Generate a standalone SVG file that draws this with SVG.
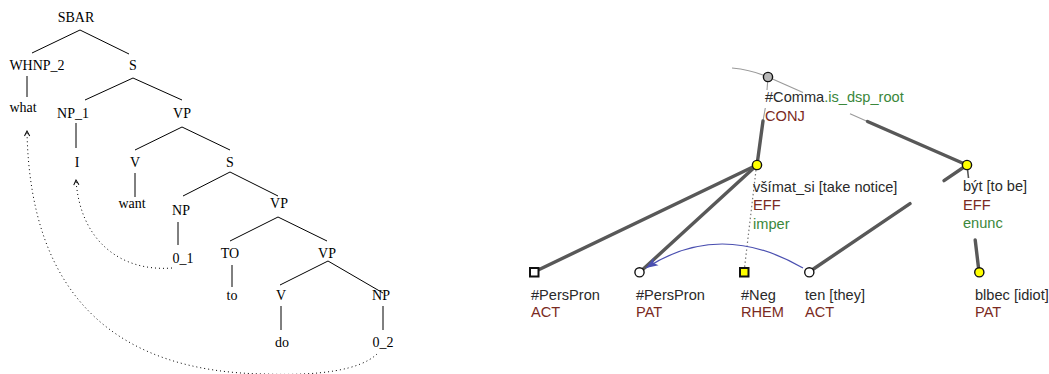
<svg xmlns="http://www.w3.org/2000/svg" width="1049" height="374" viewBox="0 0 1049 374">
<defs>
<style>
.ps{font-family:"Liberation Serif","Times New Roman",serif;font-size:14px;fill:#000;text-anchor:middle}
.tl{stroke:#000;stroke-width:1;fill:none}
.dot{stroke:#000;stroke-width:1;fill:none;stroke-dasharray:1 3}
.ss{font-family:"Liberation Sans",Arial,sans-serif;font-size:14.6px}
.nm{fill:#2a2a2a}
.fn{fill:#7a2a22}
.gr{fill:#3b873b}
.thick{stroke:#585858;stroke-width:3.4;fill:none;stroke-linecap:round}
.thin{stroke:#9a9a9a;stroke-width:1.1;fill:none}
.circ{stroke:#111;stroke-width:1.4}
.sq{stroke:#111;stroke-width:2}
</style>
<marker id="chev" viewBox="-7 -4 8 8" markerWidth="8" markerHeight="8" refX="0" refY="0" orient="auto" markerUnits="userSpaceOnUse">
<path d="M-5,-2.6 L0,0 L-5,2.6" fill="none" stroke="#000" stroke-width="1"/>
</marker>
<marker id="blueArr" viewBox="-13 -5 14 10" markerWidth="14" markerHeight="10" refX="0" refY="0" orient="auto" markerUnits="userSpaceOnUse">
<path d="M-12,-4.5 L0,0 L-12,4.5 L-9,0 Z" fill="#4a4fb0"/>
</marker>
</defs>
<rect width="1049" height="374" fill="#fff"/>

<!-- Left: phrase structure tree -->
<g id="ptree-edges">
<path class="tl" d="M80,30 L32,53 M80,30 L129,54"/>
<path class="tl" d="M27,76 L27,97"/>
<path class="tl" d="M133,78 L85,100 M133,78 L182,100"/>
<path class="tl" d="M76,123 L76,148"/>
<path class="tl" d="M182,127 L135,150 M182,127 L230,150"/>
<path class="tl" d="M135,173 L135,197"/>
<path class="tl" d="M230,172 L183,196 M230,172 L278,196"/>
<path class="tl" d="M178,222 L178,245"/>
<path class="tl" d="M278,217 L230,241 M278,217 L327,241"/>
<path class="tl" d="M232,265 L232,287"/>
<path class="tl" d="M328,261 L280,285 M328,261 L383,293"/>
<path class="tl" d="M281,306 L281,330"/>
<path class="tl" d="M383,306 L383,330"/>
<path class="dot" d="M172,268 C120,272 80,240 76,180" marker-end="url(#chev)"/>
<path class="dot" d="M377,354 C360,370 320,376 265,374 C120,372 30,300 27,131" marker-end="url(#chev)"/>
</g>
<g id="pt-SBAR"><text class="ps" x="76" y="22">SBAR</text></g>
<g id="pt-WHNP_2"><text class="ps" x="37" y="70">WHNP_2</text></g>
<g id="pt-S1"><text class="ps" x="133" y="70">S</text></g>
<g id="pt-what"><text class="ps" x="23" y="112">what</text></g>
<g id="pt-NP_1"><text class="ps" x="73" y="118">NP_1</text></g>
<g id="pt-VP1"><text class="ps" x="182" y="118">VP</text></g>
<g id="pt-I"><text class="ps" x="77" y="167">I</text></g>
<g id="pt-V1"><text class="ps" x="135" y="167">V</text></g>
<g id="pt-want"><text class="ps" x="132" y="208">want</text></g>
<g id="pt-S2"><text class="ps" x="230" y="167">S</text></g>
<g id="pt-NP1"><text class="ps" x="181" y="215">NP</text></g>
<g id="pt-VP2"><text class="ps" x="279" y="208">VP</text></g>
<g id="pt-0_1"><text class="ps" x="183" y="263">0_1</text></g>
<g id="pt-TO"><text class="ps" x="230" y="258">TO</text></g>
<g id="pt-VP3"><text class="ps" x="327" y="258">VP</text></g>
<g id="pt-to"><text class="ps" x="232" y="300">to</text></g>
<g id="pt-V2"><text class="ps" x="281" y="300">V</text></g>
<g id="pt-NP2"><text class="ps" x="381" y="300">NP</text></g>
<g id="pt-do"><text class="ps" x="282" y="347">do</text></g>
<g id="pt-0_2"><text class="ps" x="383" y="347">0_2</text></g>

<!-- Right: tectogrammatical tree -->
<g id="ttree-edges">
<path class="thin" d="M732,68 Q752,70 768,77"/>
<path class="thin" d="M768,77 L803,92.6"/>
<path class="thin" d="M850,113.7 L867.5,121.5"/>
<path class="thick" d="M867.5,121.5 L967,165"/>
<path class="thin" d="M768,77 L767,90"/>
<path class="thin" d="M765.3,108 L763,121"/>
<path class="thick" d="M763,121 L757,165"/>
<path class="thick" d="M757,165 L534,272"/>
<path class="thick" d="M757,165 L640,272"/>
<path d="M756,170 L744.5,268" stroke="#777" stroke-width="1.2" stroke-dasharray="1.5 2.5" fill="none"/>
<path class="thick" d="M809,272 L910,203.6"/>
<path class="thick" d="M944,180.6 L967,165"/>
<path class="thin" d="M967,165 L968.5,178" style="stroke:#555;stroke-width:1.6"/>
<path class="thick" d="M975.2,240 L979,272"/>
<path d="M803,268 Q720,220 646,268" stroke="#4a4fb0" stroke-width="1.2" fill="none" marker-end="url(#blueArr)"/>
</g>

<g id="t-comma">
<circle class="circ" cx="768" cy="77" r="4.6" fill="#b8b8b8"/>
<text class="ss" x="765" y="102"><tspan class="nm">#Comma</tspan><tspan class="gr">.is_dsp_root</tspan></text>
<text class="ss fn" x="765" y="121">CONJ</text>
</g>
<g id="t-vsimat">
<circle class="circ" cx="757" cy="165" r="4.6" fill="#ffff00"/>
<text class="ss nm" x="753" y="191.5">všímat_si [take notice]</text>
<text class="ss fn" x="753" y="210">EFF</text>
<text class="ss gr" x="753" y="228.5">imper</text>
</g>
<g id="t-byt">
<circle class="circ" cx="967" cy="165" r="4.6" fill="#ffff00"/>
<text class="ss nm" x="963" y="191">být [to be]</text>
<text class="ss fn" x="963" y="210">EFF</text>
<text class="ss gr" x="963" y="228">enunc</text>
</g>
<g id="t-perspron-act">
<rect class="sq" x="530" y="268" width="8.5" height="8.5" fill="#fff"/>
<text class="ss nm" x="531" y="299.5">#PersPron</text>
<text class="ss fn" x="531" y="317">ACT</text>
</g>
<g id="t-perspron-pat">
<circle class="circ" cx="639.5" cy="272.3" r="4.6" fill="#fff"/>
<text class="ss nm" x="636" y="299.5">#PersPron</text>
<text class="ss fn" x="636" y="317">PAT</text>
</g>
<g id="t-neg">
<rect class="sq" x="740" y="268" width="8.5" height="8.5" fill="#ffff00"/>
<text class="ss nm" x="741" y="299.5">#Neg</text>
<text class="ss fn" x="741" y="317">RHEM</text>
</g>
<g id="t-ten">
<circle class="circ" cx="809.3" cy="272.3" r="4.6" fill="#fff"/>
<text class="ss nm" x="805" y="299.5">ten [they]</text>
<text class="ss fn" x="805" y="317">ACT</text>
</g>
<g id="t-blbec">
<circle class="circ" cx="979.3" cy="272.3" r="4.6" fill="#ffff00"/>
<text class="ss nm" x="975" y="299.5">blbec [idiot]</text>
<text class="ss fn" x="975" y="317">PAT</text>
</g>
</svg>
